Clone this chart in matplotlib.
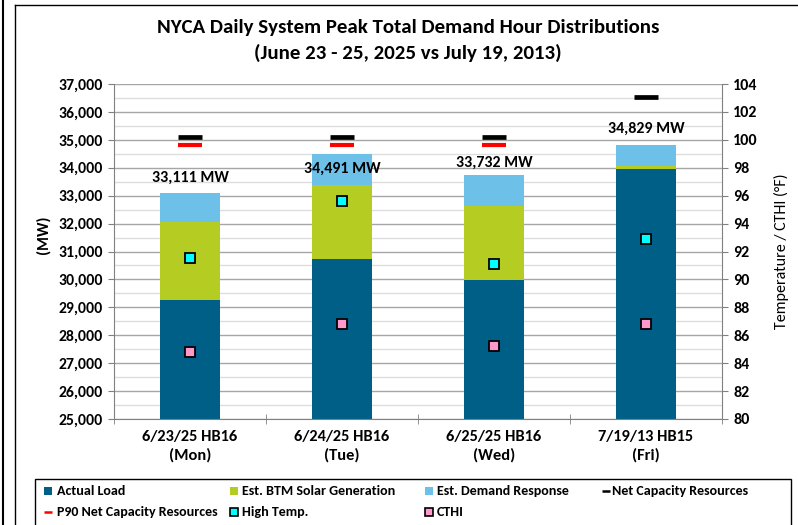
import matplotlib
matplotlib.use('Agg')
import matplotlib.pyplot as plt
from matplotlib import font_manager as fm
from matplotlib.lines import Line2D
from matplotlib.patches import Rectangle
import numpy as np

avail = {f.name for f in fm.fontManager.ttflist}
FONT = next(f for f in ['Carlito', 'Lato', 'DejaVu Sans'] if f in avail)
plt.rcParams['font.family'] = [FONT, 'DejaVu Sans']

# ---------------- data ----------------
categories = ['6/23/25 HB16\n(Mon)', '6/24/25 HB16\n(Tue)', '6/25/25 HB16\n(Wed)', '7/19/13 HB15\n(Fri)']
actual_load = [29280, 30730, 29970, 33970]
btm_solar = [2780, 2670, 2675, 100]
demand_response = [1051, 1091, 1087, 759]
total_labels = [33111, 34491, 33732, 34829]
net_capacity = [35100, 35100, 35100, 36530]
p90_net_capacity = [34800, 34800, 34800, np.nan]
high_temp = [91.5, 95.6, 91.1, 92.9]
cthi = [84.8, 86.8, 85.25, 86.8]

C_LOAD = '#005F87'
C_SOLAR = '#B5CC22'
C_DR = '#6DC0E8'
C_HT = '#00FFFF'
C_CTHI = '#FF99CC'

W, H = 798, 525
fig = plt.figure(figsize=(W / 100, H / 100), dpi=100)
ax = fig.add_axes([114 / W, 1 - 419 / H, 608 / W, 335 / H])

x = np.arange(len(categories))
bw = 0.40
load = np.array(actual_load)
sol = np.array(btm_solar)
dr = np.array(demand_response)
ax.bar(x, load, bw, color=C_LOAD, zorder=2)
ax.bar(x, sol, bw, bottom=load, color=C_SOLAR, zorder=2)
ax.bar(x, dr, bw, bottom=load + sol, color=C_DR, zorder=2)

ax.plot(x, net_capacity, ls='none', marker='_', ms=17, mew=3.4, color='black', zorder=3)
ax.plot(x, p90_net_capacity, ls='none', marker='_', ms=17, mew=3.0, color='#FF0000', zorder=3)

offsets = [10.5, -10.6, 8.9, 11.5]
tops = load + sol + dr
for xi, top, lab, off in zip(x, tops, total_labels, offsets):
    ax.annotate(f'{lab:,} MW', xy=(xi, top), xytext=(0, off), textcoords='offset points',
                ha='center', va='center', fontsize=11.5, fontweight='bold', color='black', zorder=4)

ax.set_xlim(-0.5, 3.5)
ax.set_ylim(25000, 37000)
ax.set_yticks(np.arange(25000, 37001, 1000))
ax.set_yticks(np.arange(25500, 37000, 1000), minor=True)
ax.set_yticklabels([f'{v:,}' for v in range(25000, 37001, 1000)], fontsize=11.3, fontweight='bold')
ax.grid(which='major', axis='y', color='#A6A6A6', lw=1.0, zorder=0)
ax.grid(which='minor', axis='y', color='#DDDDDD', lw=1.0, zorder=0)
ax.set_axisbelow(True)
ax.tick_params(axis='y', which='major', direction='out', length=4, color='#808080', pad=4)
ax.tick_params(axis='y', which='minor', length=0)

ax.set_xticks(x)
ax.set_xticklabels(categories, fontsize=11.8, fontweight='bold', linespacing=1.3)
ax.set_xticks(np.arange(-0.5, 3.6, 1.0), minor=True)
ax.tick_params(axis='x', which='major', length=0, pad=8)
ax.tick_params(axis='x', which='minor', direction='inout', length=7, color='#808080')

for s in ['left', 'bottom']:
    ax.spines[s].set_color('#808080')
ax.spines['top'].set_visible(False)
ax.spines['right'].set_visible(False)

ax.set_ylabel('(MW)', fontsize=11.5, fontweight='bold')
ax.yaxis.set_label_coords(-0.105, 0.55)

ax2 = ax.twinx()
ax2.set_ylim(80, 104)
ax2.set_yticks(np.arange(80, 105, 2))
ax2.set_yticklabels([str(v) for v in range(80, 105, 2)], fontsize=11.5, fontweight='bold')
ax2.tick_params(axis='y', direction='out', length=4, color='#808080', pad=4)
ax2.spines['right'].set_color('#808080')
for s in ['left', 'top', 'bottom']:
    ax2.spines[s].set_visible(False)
ax2.plot(x, high_temp, ls='none', marker='s', ms=6.5, mfc=C_HT, mec='black', mew=1.3, zorder=5)
ax2.plot(x, cthi, ls='none', marker='s', ms=6.5, mfc=C_CTHI, mec='black', mew=1.3, zorder=5)
ax2.set_ylabel('Temperature / CTHI (°F)', fontsize=11.5)
ax2.yaxis.set_label_coords(1.085, 0.5)

# title
fig.text(408 / W, 1 - 28 / H, 'NYCA Daily System Peak Total Demand Hour Distributions',
         ha='center', va='center', fontsize=15, fontweight='bold')
fig.text(408 / W, 1 - 53 / H, '(June 23 - 25, 2025 vs July 19, 2013)',
         ha='center', va='center', fontsize=15, fontweight='bold')

# frames
fig.add_artist(Line2D([3 / W, 3 / W], [0, 1], color='black', lw=1.5, transform=fig.transFigure))
fig.add_artist(Line2D([15 / W, 15 / W], [0, 1 - 5 / H], color='black', lw=1.0, transform=fig.transFigure))
fig.add_artist(Line2D([15 / W, 1], [1 - 5 / H, 1 - 5 / H], color='black', lw=1.0, transform=fig.transFigure))

# legend box
fig.add_artist(Rectangle((35 / W, -0.02), (791 - 35) / W, 0.02 + 1 - 479 / H, fill=False,
                         edgecolor='black', lw=1.0, transform=fig.transFigure))
row_y = [1 - 491 / H, 1 - 512 / H]
col_m = [48, 234, 429, 606]
col_t = [57, 242, 437, 612]
entries = [
    (0, 0, 's', C_LOAD, C_LOAD, 'Actual Load'),
    (0, 1, 's', C_SOLAR, C_SOLAR, 'Est. BTM Solar Generation'),
    (0, 2, 's', C_DR, C_DR, 'Est. Demand Response'),
    (0, 3, '_', 'black', 'black', 'Net Capacity Resources'),
    (1, 0, '_', '#FF0000', '#FF0000', 'P90 Net Capacity Resources'),
    (1, 1, 's', C_HT, 'black', 'High Temp.'),
    (1, 2, 's', C_CTHI, 'black', 'CTHI'),
]
for r, c, mk, fc, ec, lab in entries:
    if mk == '_':
        fig.add_artist(Line2D([col_m[c] / W], [row_y[r]], marker='_', ms=6, mew=1.8, color=fc,
                              transform=fig.transFigure))
    else:
        fig.add_artist(Line2D([col_m[c] / W], [row_y[r]], marker='s', ms=6, mfc=fc, mec=ec,
                              mew=1.2 if ec == 'black' else 0, transform=fig.transFigure))
    fig.text(col_t[c] / W, row_y[r], lab, ha='left', va='center', fontsize=10.1, fontweight='bold')

fig.savefig('out.png', dpi=100)
